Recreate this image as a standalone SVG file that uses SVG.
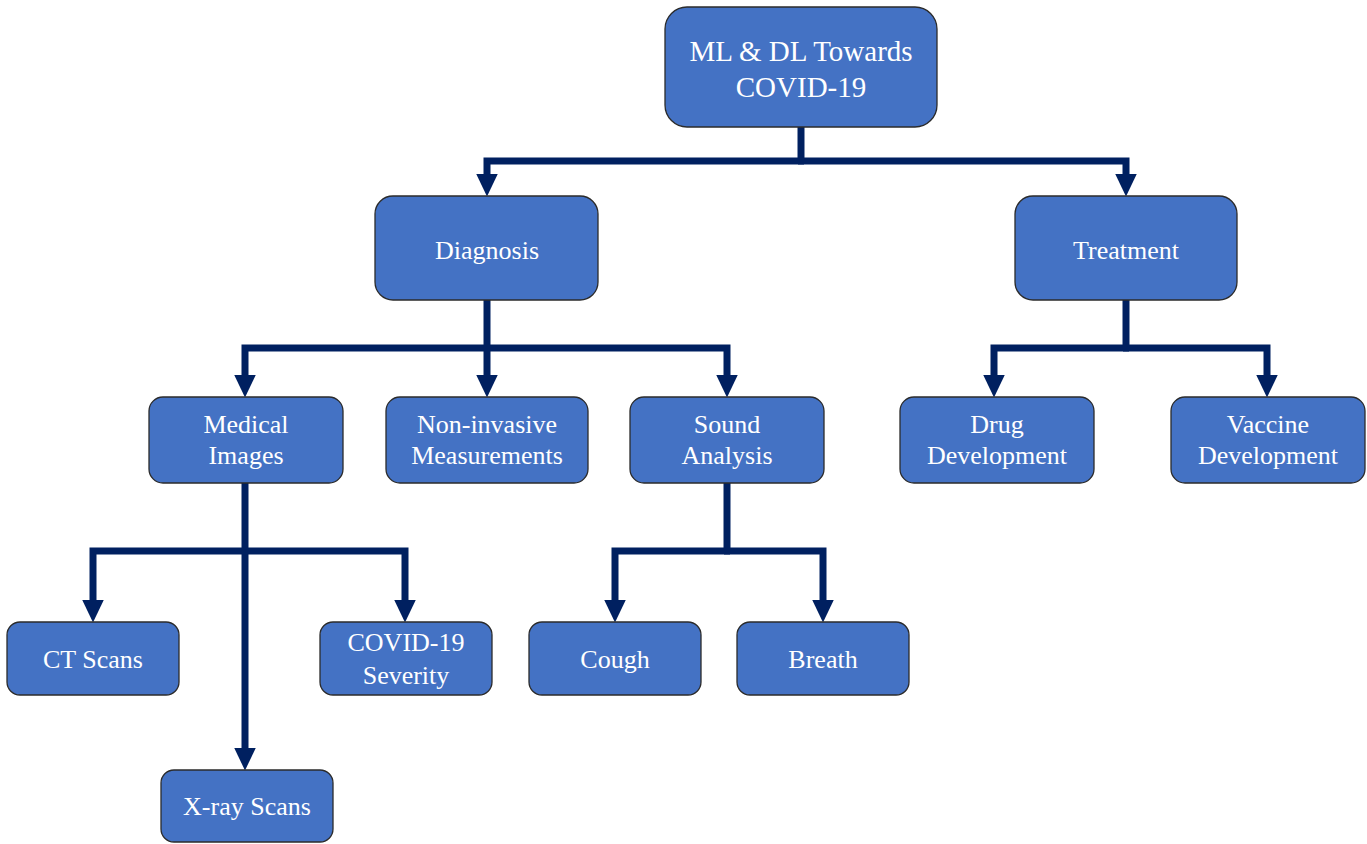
<svg xmlns="http://www.w3.org/2000/svg" width="1367" height="844" viewBox="0 0 1367 844">
<style>
.box{fill:#4472C4;stroke:#2b2b2b;stroke-width:1.3}
.t{font-family:"Liberation Serif","Times New Roman",serif;font-size:26px;fill:#ffffff;text-anchor:middle}
.tr{font-size:29px}
.c{fill:none;stroke:#002060;stroke-width:7;stroke-linejoin:miter}
</style>
<defs>
<marker id="ah" markerUnits="userSpaceOnUse" markerWidth="24" markerHeight="24" viewBox="0 -11 23 22" refX="10" refY="0" orient="auto">
<path d="M0,-10.5 L22,0 L0,10.5 z" fill="#002060"/>
</marker>
</defs>
<rect width="1367" height="844" fill="#ffffff"/>
<g id="connectors">
<path class="c" d="M801,127 V161"/>
<path class="c" d="M804,161 H487 V184" marker-end="url(#ah)"/>
<path class="c" d="M798,161 H1126 V184" marker-end="url(#ah)"/>
<path class="c" d="M487,300 V385" marker-end="url(#ah)"/>
<path class="c" d="M490,348 H245 V385" marker-end="url(#ah)"/>
<path class="c" d="M484,348 H727 V385" marker-end="url(#ah)"/>
<path class="c" d="M1126,300 V348"/>
<path class="c" d="M1129,348 H994 V385" marker-end="url(#ah)"/>
<path class="c" d="M1123,348 H1267 V385" marker-end="url(#ah)"/>
<path class="c" d="M245,483 V758" marker-end="url(#ah)"/>
<path class="c" d="M248,551 H93 V610" marker-end="url(#ah)"/>
<path class="c" d="M242,551 H405 V610" marker-end="url(#ah)"/>
<path class="c" d="M727,483 V551"/>
<path class="c" d="M730,551 H615 V610" marker-end="url(#ah)"/>
<path class="c" d="M724,551 H823 V610" marker-end="url(#ah)"/>
</g>
<g id="root">
<rect class="box" x="665" y="7" width="272" height="120" rx="22"/>
<text class="t tr" x="801" y="61">ML &amp; DL Towards</text>
<text class="t tr" x="801" y="97">COVID-19</text>
</g>
<g id="diagnosis">
<rect class="box" x="375" y="196" width="223" height="104" rx="18"/>
<text class="t" x="487" y="259">Diagnosis</text>
</g>
<g id="treatment">
<rect class="box" x="1015" y="196" width="222" height="104" rx="18"/>
<text class="t" x="1126" y="259">Treatment</text>
</g>
<g id="medical-images">
<rect class="box" x="149" y="397" width="194" height="86" rx="14"/>
<text class="t" x="246" y="433">Medical</text>
<text class="t" x="246" y="464">Images</text>
</g>
<g id="non-invasive">
<rect class="box" x="386" y="397" width="202" height="86" rx="14"/>
<text class="t" x="487" y="433">Non-invasive</text>
<text class="t" x="487" y="464">Measurements</text>
</g>
<g id="sound-analysis">
<rect class="box" x="630" y="397" width="194" height="86" rx="14"/>
<text class="t" x="727" y="433">Sound</text>
<text class="t" x="727" y="464">Analysis</text>
</g>
<g id="drug-development">
<rect class="box" x="900" y="397" width="194" height="86" rx="14"/>
<text class="t" x="997" y="433">Drug</text>
<text class="t" x="997" y="464">Development</text>
</g>
<g id="vaccine-development">
<rect class="box" x="1171" y="397" width="194" height="86" rx="14"/>
<text class="t" x="1268" y="433">Vaccine</text>
<text class="t" x="1268" y="464">Development</text>
</g>
<g id="ct-scans">
<rect class="box" x="7" y="622" width="172" height="73" rx="13"/>
<text class="t" x="93" y="668">CT Scans</text>
</g>
<g id="covid-severity">
<rect class="box" x="320" y="622" width="172" height="73" rx="13"/>
<text class="t" x="406" y="651">COVID-19</text>
<text class="t" x="406" y="684">Severity</text>
</g>
<g id="cough">
<rect class="box" x="529" y="622" width="172" height="73" rx="13"/>
<text class="t" x="615" y="668">Cough</text>
</g>
<g id="breath">
<rect class="box" x="737" y="622" width="172" height="73" rx="13"/>
<text class="t" x="823" y="668">Breath</text>
</g>
<g id="xray-scans">
<rect class="box" x="161" y="770" width="172" height="72" rx="13"/>
<text class="t" x="247" y="815">X-ray Scans</text>
</g>
</svg>
